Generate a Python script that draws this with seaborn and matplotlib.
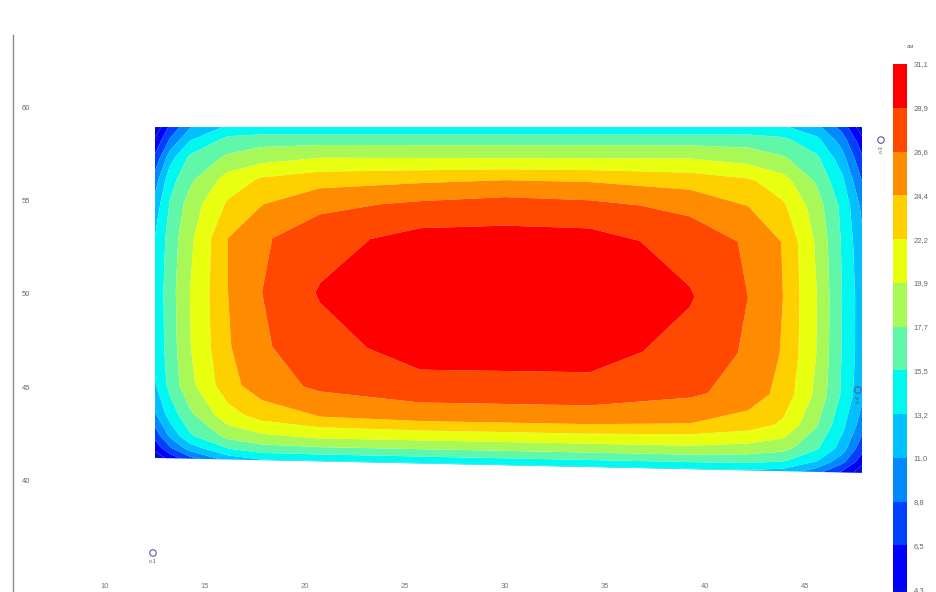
import numpy as np
import matplotlib.pyplot as plt
import seaborn as sns

# contour levels (cm) and the band colours between them
levels = [2.1, 4.3, 6.5, 8.8, 11.0, 13.2, 15.5, 17.7, 19.9, 22.2, 24.4, 26.6, 28.9, 31.1]
band_colors = ["#0010d0", "#0000ff", "#0040ff", "#0088ff", "#00c0ff", "#00f8f0",
               "#60f8a8", "#a8f858", "#e8ff10", "#ffd000", "#ff8c00", "#ff4800", "#ff0000"]

# plate outline
plate_x = [12.5, 47.85]
plate_top = 58.93
plate_bottom = [41.2, 40.4]

# grid nodes: x positions and relative depth from the top edge
grid_x = [12.5, 13.25, 14.25, 16.15, 17.85, 20.75, 25.75, 30.0, 34.25, 39.25, 42.15, 43.9, 45.6, 46.85, 47.85]
grid_v = [0.0, 0.038, 0.092, 0.157, 0.230, 0.334, 0.496, 0.659, 0.777, 0.866, 0.931, 0.969, 1.0]

# values, one row per grid_v
r0 = [2.5, 7.0, 10.8, 13.6, 13.7, 13.7, 13.7, 13.7, 13.7, 13.7, 13.7, 13.5, 11.6, 8.0, 2.8]
r1 = [4.5, 9.0, 13.0, 16.2, 16.8, 16.8, 16.8, 16.8, 16.8, 16.8, 16.8, 16.1, 13.8, 10.0, 5.0]
r2 = [7.0, 12.3, 16.0, 18.1, 19.0, 19.9, 19.9, 19.9, 19.9, 19.9, 19.0, 18.0, 16.0, 12.0, 7.0]
r3 = [9.8, 14.6, 17.2, 20.8, 22.5, 23.5, 24.0, 24.4, 24.2, 23.5, 22.6, 20.8, 17.4, 13.8, 8.8]
r4 = [11.8, 15.7, 18.6, 22.5, 24.3, 26.0, 27.0, 27.6, 27.2, 26.0, 24.4, 22.6, 18.7, 15.0, 10.5]
r5 = [13.3, 16.5, 19.4, 24.4, 26.3, 28.0, 29.8, 29.8, 29.8, 28.0, 26.3, 24.3, 19.5, 15.3, 11.5]
r6 = [13.8, 16.8, 19.9, 24.4, 26.6, 29.1, 30.6, 31.1, 30.9, 29.1, 26.6, 24.4, 19.9, 15.5, 12.0]
r7 = [13.8, 16.6, 19.8, 24.2, 26.3, 28.0, 29.9, 29.9, 29.9, 28.0, 26.3, 24.2, 19.8, 15.4, 12.0]
r8 = [13.0, 16.3, 19.3, 23.6, 25.6, 27.0, 28.0, 28.0, 28.0, 27.0, 25.7, 23.6, 19.3, 15.2, 11.5]
r9 = [10.8, 14.3, 17.3, 21.3, 23.1, 24.4, 25.0, 25.0, 25.0, 24.4, 23.3, 21.8, 17.8, 13.8, 9.8]
r10 = [7.5, 11.5, 15.2, 18.3, 19.3, 19.9, 19.9, 19.9, 19.9, 19.9, 19.3, 18.6, 15.8, 12.2, 7.2]
r11 = [5.0, 8.5, 12.0, 15.3, 16.5, 16.7, 16.7, 16.7, 16.7, 16.7, 16.5, 15.8, 13.2, 9.5, 5.0]
r12 = [2.8, 5.0, 8.0, 11.8, 13.0, 13.0, 13.0, 13.0, 13.0, 13.0, 13.0, 12.4, 9.6, 6.0, 2.8]

# survey points
point_names = ["c-1", "c-3", "c-4"]
point_x = [12.4, 48.8, 47.65]
point_y = [36.11, 58.23, 44.84]
point_rot = [0, 90, 90]

sns.set_theme(style="white")
plt.rcParams["font.family"] = ["Liberation Sans", "DejaVu Sans"]

Z = np.array([r0, r1, r2, r3, r4, r5, r6, r7, r8, r9, r10, r11, r12])
gx = np.array(grid_x)
gv = np.array(grid_v)
ybot = np.interp(gx, plate_x, plate_bottom)
X = np.tile(gx, (len(gv), 1))
Y = plate_top - gv[:, None] * (plate_top - ybot[None, :])

fig = plt.figure(figsize=(9.37, 5.92), dpi=100)
ax = fig.add_axes([13 / 937, -8 / 592, 875 / 937, 565 / 592])
cs = ax.contourf(X, Y, Z, levels=levels, colors=band_colors, antialiased=True)

sns.scatterplot(x=point_x, y=point_y, ax=ax, marker="o", s=22, facecolor="none",
                edgecolor="#5b5b9b", linewidth=0.8, legend=False, zorder=5)
for name, px, py, rot in zip(point_names, point_x, point_y, point_rot):
    ax.annotate(name, (px, py), xytext=(0, -4), textcoords="offset points",
                ha="center", va="top", rotation=rot, fontsize=4, color="#555566")
ax.text(plate_x[0] + 0.05, plate_top - 0.5, "c-2", rotation=90, fontsize=3.5,
        color="#333344", ha="left", va="center")

ax.set_xlim(5.4, 49.15)
ax.set_ylim(33.59, 63.86)
ax.set_xticks([10, 15, 20, 25, 30, 35, 40, 45])
ax.set_yticks([40, 45, 50, 55, 60])
for side in ["top", "right", "bottom"]:
    ax.spines[side].set_visible(False)
ax.spines["left"].set_color("#8c8c8c")
ax.spines["left"].set_linewidth(1.0)
ax.tick_params(axis="y", direction="in", length=3, width=0.6, color="#888888",
               pad=-6.5, labelsize=5.5, labelcolor="#666666")
ax.tick_params(axis="x", direction="in", length=0, pad=-12.2,
               labelsize=5.5, labelcolor="#777777")
for lbl in ax.get_yticklabels():
    lbl.set_horizontalalignment("left")
ax.set_facecolor("white")

cax = fig.add_axes([893 / 937, (592 - 633) / 592, 14 / 937, (633 - 64) / 592])
cbar = fig.colorbar(cs, cax=cax, ticks=levels[1:])
cbar.outline.set_visible(False)
cbar.ax.set_yticklabels([f"{v:.1f}".replace(".", ",") for v in levels[1:]])
cbar.ax.tick_params(length=0, pad=5, labelsize=5.5, labelcolor="#666666")
fig.text(910 / 937, 1 - 47 / 592, "см", ha="center", va="center", fontsize=4.5, color="#666666")

fig.savefig("out.png", dpi=100)
